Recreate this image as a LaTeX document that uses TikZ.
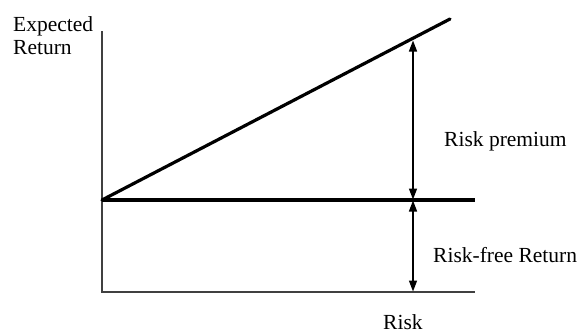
\documentclass[tikz,border=0pt]{standalone}
\usepackage{fontspec}
\setmainfont{Liberation Serif}
\usetikzlibrary{arrows.meta}
\tikzset{
  axis/.style={line width=1.6pt, draw=black!75},
  thickline/.style={line width=3.2pt},
  measure/.style={line width=1.5pt, {Triangle[length=11pt,width=8pt]}-{Triangle[length=11pt,width=8pt]}, shorten <=0.5pt, shorten >=0.5pt},
  lbl/.style={anchor=base west, inner sep=0pt, font=\fontsize{21.5}{24}\selectfont}
}
\begin{document}
\begin{tikzpicture}[x=1pt,y=-1pt]
\useasboundingbox (0,0) rectangle (580,333);
% axes
\coordinate (ytop) at (102,31);
\coordinate (orig) at (102,292);
\coordinate (xend) at (475,292);
\draw[axis] (ytop) -- (orig) -- (xend);
% risk-free level and market line
\coordinate (rf) at (102,200);
\coordinate (rfend) at (475,200);
\coordinate (lineend) at (450,19);
\draw[thickline] (rf) -- (rfend);
\draw[thickline, line cap=round] (rf) -- (lineend);
% measurement arrows
\coordinate (pTop) at (413,40);
\coordinate (pMid) at (413,200);
\coordinate (pBot) at (413,292);
\draw[measure] (pTop) -- (pMid);
\draw[measure] (pMid) -- (pBot);
% labels
\node[lbl] (ylab1) at (13,31) {Expected};
\node[lbl] (ylab2) at (13,54) {Return};
\node[lbl] (prem) at (444,146) {Risk premium};
\node[lbl] (rfr) at (433,262) {Risk-free Return};
\node[lbl] (xlab) at (383,329) {Risk};
\end{tikzpicture}
\end{document}
